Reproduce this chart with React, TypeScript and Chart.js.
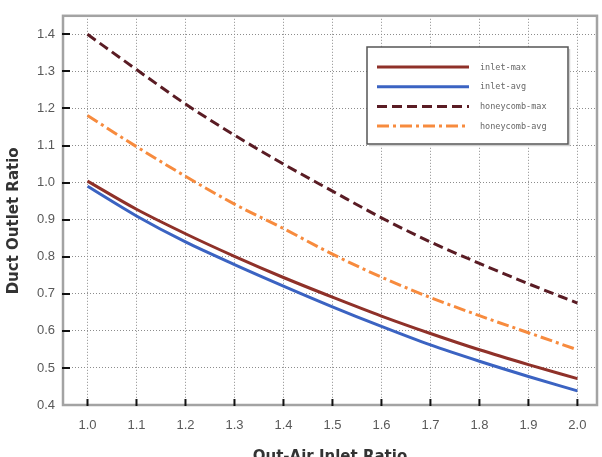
import React, { useEffect, useRef } from "react";
import { Chart, registerables } from "chart.js";

Chart.register(...registerables);

const xValues = [1.0, 1.1, 1.2, 1.3, 1.4, 1.5, 1.6, 1.7, 1.8, 1.9, 2.0];
const xTickLabels = ["1.0", "1.1", "1.2", "1.3", "1.4", "1.5", "1.6", "1.7", "1.8", "1.9", "2.0"];
const yTicks = [0.4, 0.5, 0.6, 0.7, 0.8, 0.9, 1.0, 1.1, 1.2, 1.3, 1.4];

const inletMax = [1.004, 0.928, 0.862, 0.801, 0.744, 0.691, 0.640, 0.593, 0.549, 0.509, 0.471];
const inletAvg = [0.990, 0.910, 0.840, 0.779, 0.721, 0.665, 0.612, 0.562, 0.518, 0.477, 0.438];
const honeycombMax = [1.400, 1.305, 1.212, 1.128, 1.050, 0.977, 0.905, 0.840, 0.782, 0.727, 0.675];
const honeycombAvg = [1.181, 1.097, 1.017, 0.942, 0.876, 0.807, 0.745, 0.690, 0.641, 0.595, 0.549];

const seriesNames = ["inlet-max", "inlet-avg", "honeycomb-max", "honeycomb-avg"];
const seriesColors = ["#8f3129", "#3b63c2", "#5a1c24", "#f78b3e"];
const seriesDashes: number[][] = [[], [], [10, 5], [12, 4, 3, 4]];

const toPoints = (ys: number[]) => ys.map((y, i) => ({ x: xValues[i], y }));

const framePlugin = {
  id: "frameAndTicks",
  beforeDatasetsDraw(chart: any) {
    const { ctx, chartArea } = chart;
    const { left, right, top, bottom } = chartArea;
    ctx.save();
    ctx.strokeStyle = "#a3a3a3";
    ctx.lineWidth = 2.5;
    ctx.strokeRect(left, top, right - left, bottom - top);
    ctx.strokeStyle = "#111";
    ctx.lineWidth = 2;
    const ys = chart.scales.y;
    yTicks.forEach((v) => {
      const py = Math.round(ys.getPixelForValue(v));
      if (py < bottom - 2) {
        ctx.beginPath();
        ctx.moveTo(left - 1, py);
        ctx.lineTo(left + 7, py);
        ctx.stroke();
      }
    });
    const xs = chart.scales.x;
    xValues.forEach((v) => {
      const px = xs.getPixelForValue(v);
      ctx.beginPath();
      ctx.moveTo(px, bottom + 1);
      ctx.lineTo(px, bottom - 6);
      ctx.stroke();
    });
    ctx.restore();
  },
};

const legendPlugin = {
  id: "boxLegend",
  afterDraw(chart: any) {
    const { ctx } = chart;
    const bx = 367, by = 47, bw = 201, bh = 97;
    ctx.save();
    ctx.fillStyle = "#ffffff";
    ctx.fillRect(bx, by, bw, bh);
    ctx.strokeStyle = "#d0d0d0";
    ctx.lineWidth = 1.5;
    ctx.beginPath();
    ctx.moveTo(bx + 2, by + bh + 1.5);
    ctx.lineTo(bx + bw + 1.5, by + bh + 1.5);
    ctx.lineTo(bx + bw + 1.5, by + 2);
    ctx.stroke();
    ctx.strokeStyle = "#555";
    ctx.lineWidth = 1.5;
    ctx.strokeRect(bx, by, bw, bh);
    chart.data.datasets.forEach((ds: any, i: number) => {
      const yy = by + 20 + i * 19.7;
      ctx.strokeStyle = ds.borderColor;
      ctx.lineWidth = 3;
      ctx.setLineDash(ds.borderDash || []);
      ctx.beginPath();
      ctx.moveTo(bx + 10, yy);
      ctx.lineTo(bx + 102, yy);
      ctx.stroke();
      ctx.setLineDash([]);
      ctx.fillStyle = "#666";
      ctx.font = "8.5px 'DejaVu Sans Mono', monospace";
      ctx.textAlign = "left";
      ctx.textBaseline = "middle";
      ctx.fillText(ds.label, bx + 113, yy + 0.5);
    });
    ctx.restore();
  },
};

export default function App() {
  const canvasRef = useRef<HTMLCanvasElement | null>(null);

  useEffect(() => {
    if (!canvasRef.current) return;
    const data = [inletMax, inletAvg, honeycombMax, honeycombAvg];
    const chart = new Chart(canvasRef.current, {
      type: "line",
      data: {
        datasets: data.map((d, i) => ({
          label: seriesNames[i],
          data: toPoints(d),
          borderColor: seriesColors[i],
          backgroundColor: seriesColors[i],
          borderWidth: 3,
          borderDash: seriesDashes[i],
          pointRadius: 0,
          fill: false,
          cubicInterpolationMode: "monotone" as const,
        })),
      },
      options: {
        responsive: false,
        animation: false,
        devicePixelRatio: 1,
        layout: { padding: { top: 10, right: 5, left: 0, bottom: 0 } },
        plugins: {
          legend: { display: false },
          tooltip: { enabled: false },
        },
        scales: {
          x: {
            type: "linear",
            min: 0.95,
            max: 2.04,
            afterFit: (s: any) => {
              s.height = 52;
            },
            afterBuildTicks: (s: any) => {
              s.ticks = xValues.map((v) => ({ value: v }));
            },
            ticks: {
              padding: 13,
              color: "#595959",
              font: { family: "'Liberation Sans', Arial, sans-serif", size: 13 },
              callback: (v: any) => {
                const i = xValues.findIndex((x) => Math.abs(x - Number(v)) < 1e-6);
                return i >= 0 ? xTickLabels[i] : "";
              },
              maxRotation: 0,
            },
            grid: {
              color: "#8c8c8c",
              lineWidth: 1,
              drawTicks: false,
            },
            border: { display: false, dash: [1, 2] },
            title: {
              display: true,
              text: "Out-Air Inlet Ratio",
              color: "#333",
              font: { family: "'DejaVu Sans', sans-serif", size: 15, weight: "bold" },
              padding: { top: 0, bottom: -9 },
            },
          },
          y: {
            type: "linear",
            min: 0.4,
            max: 1.45,
            afterFit: (s: any) => {
              s.width = 63;
            },
            afterBuildTicks: (s: any) => {
              s.ticks = yTicks.map((v) => ({ value: v }));
            },
            ticks: {
              padding: 8,
              color: "#595959",
              font: { family: "'Liberation Sans', Arial, sans-serif", size: 13 },
              callback: (v: any) => Number(v).toFixed(1),
            },
            grid: {
              color: (c: any) => (c.tick && c.tick.value <= 0.4 ? "rgba(0,0,0,0)" : "#8c8c8c"),
              lineWidth: 1,
              drawTicks: false,
            },
            border: { display: false, dash: [1, 2] },
            title: {
              display: true,
              text: "Duct Outlet Ratio    ",
              color: "#333",
              font: { family: "'DejaVu Sans', sans-serif", size: 15, weight: "bold" },
              padding: { top: 5, bottom: 0 },
            },
          },
        },
      },
      plugins: [framePlugin, legendPlugin],
    });
    return () => chart.destroy();
  }, []);

  return (
    <div style={{ position: "absolute", left: 0, top: 0, width: 602, height: 457, background: "#fff" }}>
      <canvas ref={canvasRef} width={602} height={457} style={{ width: 602, height: 457, display: "block" }} />
    </div>
  );
}
